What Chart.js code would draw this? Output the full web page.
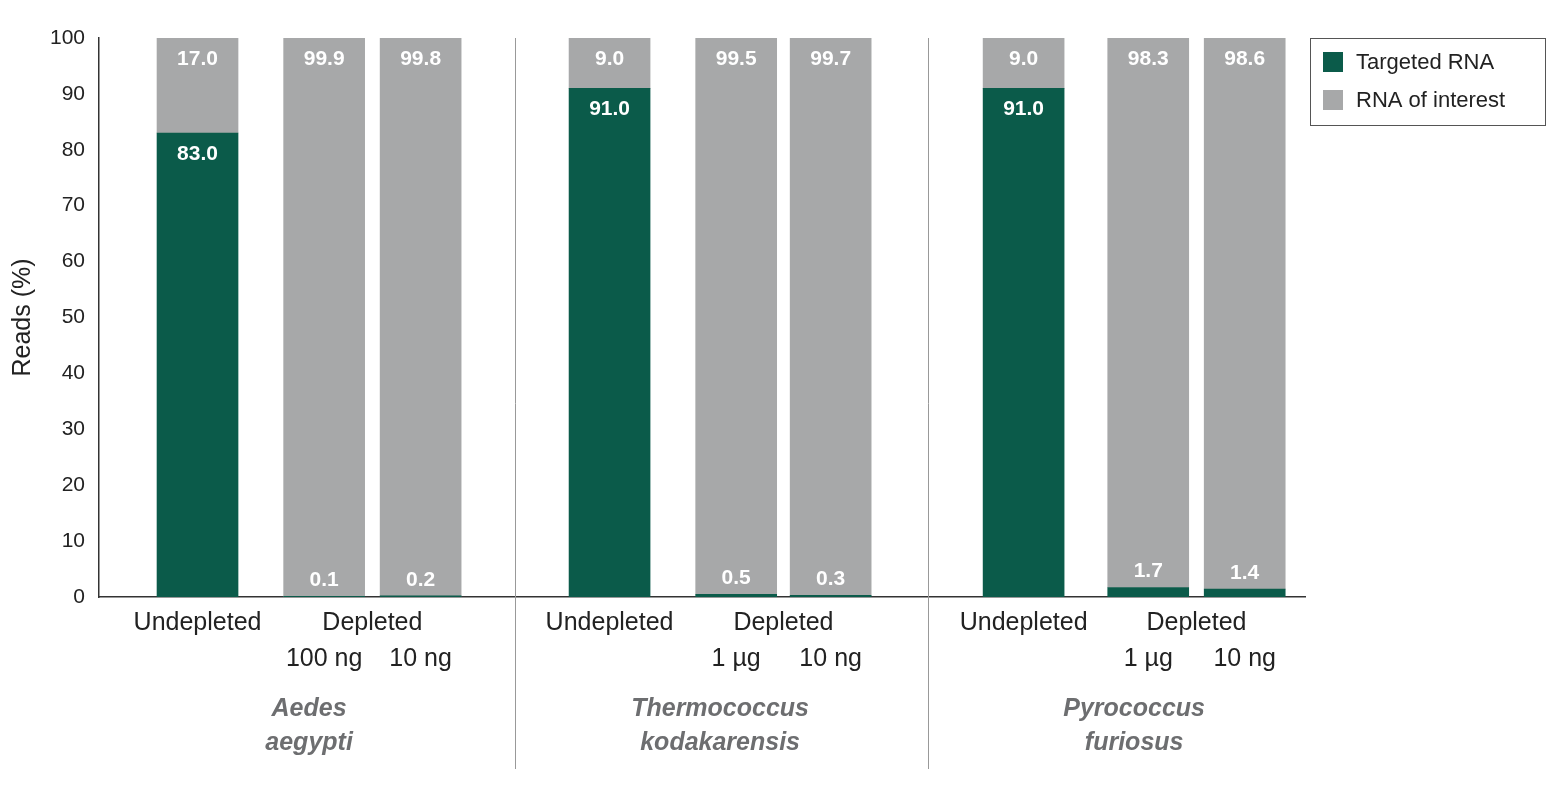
<!DOCTYPE html>
<html><head><meta charset="utf-8">
<script src="https://cdn.jsdelivr.net/npm/chart.js@4/dist/chart.umd.min.js"></script>
<style>html,body{margin:0;background:#fff}#w{width:1567px;height:800px}</style>
</head><body><div id="w"><canvas id="c"></canvas></div>
<script>
const positions=[0.98,2.24,3.2,5.08,6.34,7.28,9.2,10.44,11.4];
const targeted=[83.0,0.1,0.2,91.0,0.5,0.3,91.0,1.7,1.4];
const interest=[17.0,99.9,99.8,9.0,99.5,99.7,9.0,98.3,98.6];
const topLabels=["Undepleted","Depleted","","Undepleted","Depleted","","Undepleted","Depleted",""];
const subLabels=["","100 ng","10 ng","","1 µg","10 ng","","1 µg","10 ng"];
const species=[["Aedes","aegypti"],["Thermococcus","kodakarensis"],["Pyrococcus","furiosus"]];
const dividers=[4.14,8.25];
const GREEN='#0b5b4a',GRAY='#a7a8a9';
const pts=a=>a.map((v,i)=>({x:positions[i],y:v}));
const deco={id:'deco',afterDatasetsDraw(ch){
 const c=ch.ctx,x=ch.scales.x,y=ch.scales.y;
 c.save();c.fillStyle='#fff';c.font='bold 21px Arial, "Liberation Sans"';c.textAlign='center';c.textBaseline='middle';
 positions.forEach((p,i)=>{const px=x.getPixelForValue(p);
  c.fillText(interest[i].toFixed(1),px,y.getPixelForValue(100)+21);
  const t=y.getPixelForValue(targeted[i]);
  c.fillText(targeted[i].toFixed(1),px,targeted[i]>5?t+21:t-16);});
 c.fillStyle='#222';c.font='25px Arial, "Liberation Sans"';
 positions.forEach((p,i)=>{const px=x.getPixelForValue(p);
  if(topLabels[i]==='Undepleted')c.fillText('Undepleted',px,y.bottom+26);
  if(topLabels[i]==='Depleted')c.fillText('Depleted',(px+x.getPixelForValue(positions[i+1]))/2,y.bottom+26);
  if(subLabels[i])c.fillText(subLabels[i],px,y.bottom+62);});
 c.fillStyle='#6d6e70';c.font='italic bold 25px Arial, "Liberation Sans"';
 species.forEach((s,g)=>{const px=(x.getPixelForValue(positions[g*3])+x.getPixelForValue(positions[g*3+2]))/2;
  c.fillText(s[0],px,y.bottom+112);c.fillText(s[1],px,y.bottom+146);});
 c.strokeStyle='#999';c.lineWidth=1;
 dividers.forEach(d=>{const px=Math.round(x.getPixelForValue(d))+0.5;c.beginPath();c.moveTo(px,y.top);c.lineTo(px,y.bottom+172);c.stroke();});
 c.strokeStyle='#555';c.strokeRect(1310.5,38.5,235,87);
 c.fillStyle=GREEN;c.fillRect(1323,52,20,20);c.fillStyle=GRAY;c.fillRect(1323,90,20,20);
 c.fillStyle='#222';c.font='22px Arial, "Liberation Sans"';c.textAlign='left';
 c.fillText('Targeted RNA',1356,63);c.fillText('RNA of interest',1356,101);
 c.restore();}};
new Chart(document.getElementById('c'),{type:'bar',
 data:{datasets:[{label:'Targeted RNA',data:pts(targeted),backgroundColor:GREEN,barThickness:81},
  {label:'RNA of interest',data:pts(interest),backgroundColor:GRAY,barThickness:81}]},
 options:{responsive:true,maintainAspectRatio:false,animation:false,
  layout:{padding:{top:38,right:262,bottom:203,left:4}},
  plugins:{legend:{display:false},tooltip:{enabled:false}},
  scales:{x:{type:'linear',offset:false,stacked:true,min:0,max:12,ticks:{display:false},grid:{display:false,drawTicks:false,offset:false},border:{color:'#333',width:1.5}},
   y:{stacked:true,min:0,max:100,ticks:{stepSize:10,color:'#222',font:{size:21,family:'Arial, "Liberation Sans"'},padding:8},
    grid:{display:false,drawTicks:true,tickLength:6,tickColor:'#333'},border:{color:'#333',width:1.5},
    title:{display:true,text:'Reads (%)',color:'#222',font:{size:25,family:'Arial, "Liberation Sans"'},padding:4}}}},
 plugins:[deco]});
</script></body></html>
